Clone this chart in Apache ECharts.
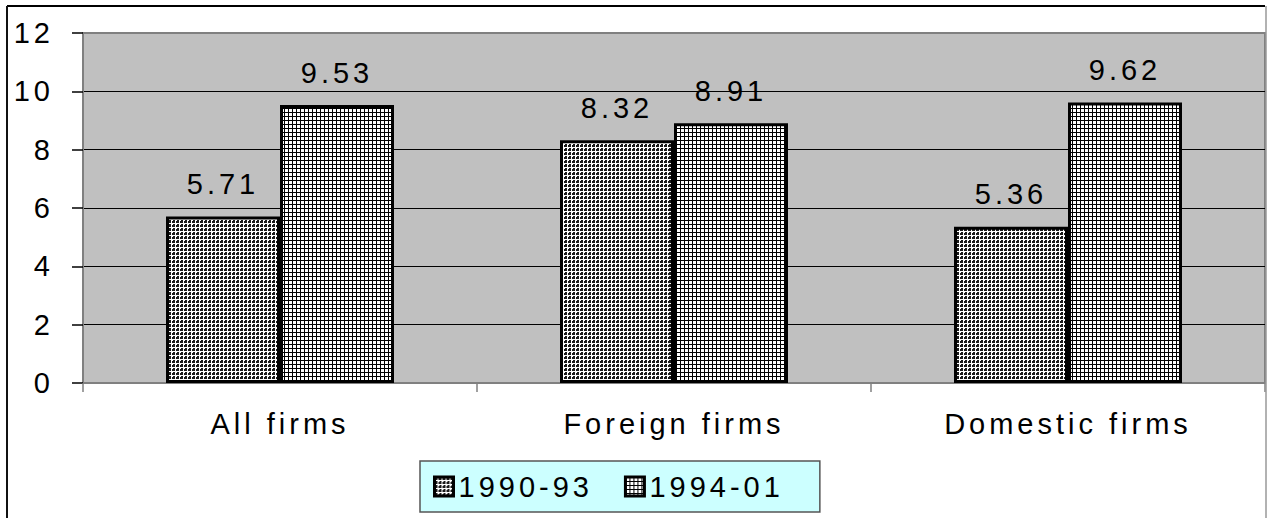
<!DOCTYPE html>
<html>
<head>
<meta charset="utf-8">
<script src="https://cdn.jsdelivr.net/npm/echarts@6/dist/echarts.min.js"></script>
<style>
  html, body { margin: 0; padding: 0; background: #fff; }
  #chart { width: 1267px; height: 518px; }
  #chart text { letter-spacing: 4px; }
</style>
</head>
<body>
<div id="chart"></div>
<script>
// Growth by firm type, two periods
const categories = ['All firms', 'Foreign firms', 'Domestic firms'];
const seriesNames = ['1990-93', '1994-01'];
const values9093 = [5.71, 8.32, 5.36];
const values9401 = [9.53, 8.91, 9.62];
const yTicks = [0, 2, 4, 6, 8, 10, 12];

const FONT = '"Liberation Sans", Arial, sans-serif';

// Dotted fill: dark plus-shaped dots on white, 4px period
function dotPattern() {
  const c = document.createElement('canvas');
  c.width = 4; c.height = 4;
  const g = c.getContext('2d');
  g.fillStyle = '#ffffff'; g.fillRect(0, 0, 4, 4);
  g.fillStyle = '#1a1a1a';
  g.fillRect(1, 0, 2, 4);
  g.fillRect(0, 1, 4, 2);
  g.fillStyle = '#ffffff';
  g.fillRect(3, 0, 1, 1);
  g.fillRect(0, 3, 1, 1);
  g.fillRect(0, 0, 1, 1);
  g.fillRect(3, 3, 1, 1);
  g.fillRect(3, 1, 1, 2);
  g.fillRect(1, 3, 2, 1);
  return c;
}
// Grid fill: thin black lines on white, 4px period
function gridPattern() {
  const c = document.createElement('canvas');
  c.width = 4; c.height = 4;
  const g = c.getContext('2d');
  g.fillStyle = '#ffffff'; g.fillRect(0, 0, 4, 4);
  g.fillStyle = '#000000';
  g.fillRect(0, 0, 4, 1);
  g.fillRect(0, 0, 1, 4);
  return c;
}

const chart = echarts.init(document.getElementById('chart'), null, { renderer: 'svg' });

const labelStyle = {
  show: true,
  position: 'top',
  distance: 18,
  color: '#000',
  fontFamily: FONT,
  fontSize: 29,
  formatter: p => p.value.toFixed(2)
};

chart.setOption({
  animation: false,
  backgroundColor: '#ffffff',
  textStyle: { fontFamily: FONT, color: '#000' },
  graphic: [
    { type: 'line', shape: { x1: 7, y1: 6, x2: 1265, y2: 6 }, style: { stroke: '#000', lineWidth: 2 }, z: 10 },
    { type: 'line', shape: { x1: 7, y1: 6, x2: 7, y2: 520 }, style: { stroke: '#111', lineWidth: 2 }, z: 10 },
    { type: 'line', shape: { x1: 1266, y1: 6, x2: 1266, y2: 520 }, style: { stroke: '#999', lineWidth: 1.5 }, z: 10 }
  ],
  grid: {
    left: 83, right: 2, top: 33, bottom: 135,
    show: true,
    backgroundColor: '#c0c0c0',
    borderColor: '#808080',
    borderWidth: 2
  },
  legend: {
    data: seriesNames,
    left: 420,
    top: 461,
    orient: 'horizontal',
    itemWidth: 19,
    itemHeight: 19,
    itemGap: 59,
    padding: [11, 64, 11, 13],
    backgroundColor: '#ccffff',
    borderColor: '#555555',
    borderWidth: 1.5,
    icon: 'rect',
    itemStyle: { borderColor: '#000', borderWidth: 3 },
    textStyle: { fontFamily: FONT, fontSize: 29, color: '#000' }
  },
  xAxis: {
    type: 'category',
    data: categories,
    axisLine: { show: true, lineStyle: { color: '#808080', width: 2 } },
    axisTick: { show: true, length: 9, lineStyle: { color: '#808080', width: 1.5 } },
    axisLabel: { fontFamily: FONT, fontSize: 29, color: '#000', margin: 26 },
    splitLine: { show: false }
  },
  yAxis: {
    type: 'value',
    min: 0,
    max: 12,
    interval: 2,
    axisLine: { show: true, lineStyle: { color: '#808080', width: 2 } },
    axisTick: { show: true, length: 11, lineStyle: { color: '#000', width: 1.5 } },
    axisLabel: {
      fontFamily: FONT, fontSize: 29, color: '#000', margin: 29,
      formatter: v => (yTicks.indexOf(v) >= 0 ? String(v) : '')
    },
    splitLine: { show: true, showMinLine: false, showMaxLine: false, lineStyle: { color: '#000', width: 1.2 } }
  },
  series: [
    {
      name: seriesNames[0],
      type: 'bar',
      data: values9093,
      barWidth: 114,
      barGap: '0%',
      itemStyle: {
        color: { image: dotPattern(), repeat: 'repeat' },
        borderColor: '#000',
        borderWidth: 3
      },
      label: labelStyle
    },
    {
      name: seriesNames[1],
      type: 'bar',
      data: values9401,
      barWidth: 114,
      barGap: '0%',
      itemStyle: {
        color: { image: gridPattern(), repeat: 'repeat' },
        borderColor: '#000',
        borderWidth: 3
      },
      label: labelStyle
    }
  ]
});
</script>
</body>
</html>
